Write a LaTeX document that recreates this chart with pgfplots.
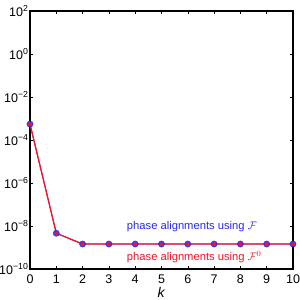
\documentclass[border=0pt]{standalone}
\usepackage{fontspec}
\setmainfont{Liberation Sans}
\usepackage{pgfplots}
\pgfplotsset{compat=1.18}
\definecolor{myblue}{RGB}{40,40,240}
\definecolor{myred}{RGB}{240,20,40}
\begin{document}
\begin{tikzpicture}[x=1bp,y=1bp]
\useasboundingbox (-30bp,-31bp) rectangle (270bp,269bp);
\begin{axis}[
  at={(0,0)}, anchor=south west,
  scale only axis, width=263bp, height=258bp,
  ymode=log, xmin=0, xmax=10, ymin=1e-10, ymax=1e2,
  xtick={0,...,10},
  ytick={1e-10,1e-8,1e-6,1e-4,1e-2,1,1e2},
  yticklabels={10\textsuperscript{−10},10\textsuperscript{−8},10\textsuperscript{−6},10\textsuperscript{−4},10\textsuperscript{−2},10\textsuperscript{0},10\textsuperscript{2}},
  xticklabel style={font=\fontsize{12.5bp}{13bp}\selectfont, yshift=-2bp},
  yticklabel style={font=\fontsize{12.5bp}{13bp}\selectfont, xshift=2bp},
  /pgf/number format/assume math mode=true,
  xticklabel={\pgfmathprintnumber[assume math mode=true]{\tick}},
  minor tick num=0, yminorticks=false,
  tick align=inside, major tick length=3bp,
  tick style={black, line width=0.6pt},
  axis line style={black, line width=1.4pt},
  xlabel={\textit{k}}, xlabel style={font=\fontsize{14bp}{15bp}\selectfont, yshift=3bp},
  clip=false,
]
\addplot[myblue, line width=0.8pt, mark=*, mark size=3bp, mark options={fill=myblue, draw=myblue, opacity=0.85}] coordinates {
(0,5.5e-4)(1,4.6e-9)(2,1.45e-9)(3,1.45e-9)(4,1.45e-9)(5,1.45e-9)(6,1.45e-9)(7,1.45e-9)(8,1.45e-9)(9,1.45e-9)(10,1.45e-9)};
\addplot[myred, line width=1.3pt, mark=*, mark size=1.3bp, mark options={fill=myred, draw=myred}] coordinates {
(0,5.5e-4)(1,4.6e-9)(2,1.45e-9)(3,1.45e-9)(4,1.45e-9)(5,1.45e-9)(6,1.45e-9)(7,1.45e-9)(8,1.45e-9)(9,1.45e-9)(10,1.45e-9)};
\node[anchor=west, text=myblue, font=\fontsize{11.2bp}{12bp}\selectfont, inner sep=0pt] at (axis cs:3.68,9e-9) {phase alignments using $\mathcal{F}$};
\node[anchor=west, text=myred, font=\fontsize{11.2bp}{12bp}\selectfont, inner sep=0pt] at (axis cs:3.68,3.6e-10) {phase alignments using $\mathcal{F}^0$};
\end{axis}
\end{tikzpicture}
\end{document}
